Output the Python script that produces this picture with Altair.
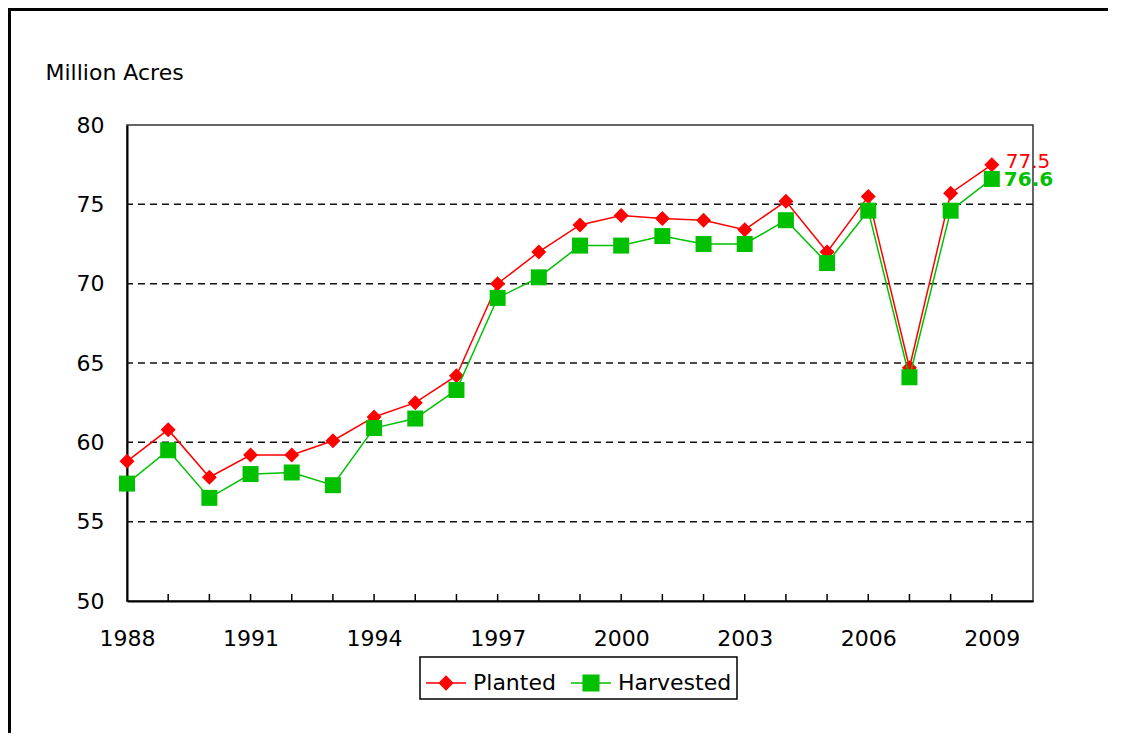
import altair as alt
import pandas as pd

years = list(range(1988, 2010))
planted = [58.8, 60.8, 57.8, 59.2, 59.2, 60.1, 61.6, 62.5, 64.2, 70.0, 72.0, 73.7,
           74.3, 74.1, 74.0, 73.4, 75.2, 72.0, 75.5, 64.7, 75.7, 77.5]
harvested = [57.4, 59.5, 56.5, 58.0, 58.1, 57.3, 60.9, 61.5, 63.3, 69.1, 70.4, 72.4,
             72.4, 73.0, 72.5, 72.5, 74.0, 71.3, 74.6, 64.1, 74.6, 76.6]
series = ["Planted", "Harvested"]
colors = ["#FF0000", "#00C000"]
x_label_years = [1988, 1991, 1994, 1997, 2000, 2003, 2006, 2009]
y_ticks = [50, 55, 60, 65, 70, 75, 80]
grid_values = [55, 60, 65, 70, 75]

W, H = 906, 476
FONT = "DejaVu Sans"

rows = []
for s, vals in zip(series, [planted, harvested]):
    for yr, v in zip(years, vals):
        rows.append({"year": yr, "value": v, "series": s})
df = pd.DataFrame(rows)

xscale = alt.Scale(domain=[1988, 2010], nice=False, zero=False)
yscale = alt.Scale(domain=[50, 80], nice=False, zero=False)

x_enc = alt.X("year:Q", scale=xscale, axis=alt.Axis(
    values=x_label_years, format="d", title=None, grid=False, ticks=False, tickSize=0,
    labelFontSize=22, labelFont=FONT, labelColor="#000", labelPadding=27,
    labelFlush=False, labelOverlap=False, labelBound=False,
    domainColor="#000", domainWidth=2))
y_enc = alt.Y("value:Q", scale=yscale, axis=alt.Axis(
    values=y_ticks, title="Million Acres", grid=False, ticks=False, tickSize=0,
    labelFontSize=22, labelFont=FONT, labelColor="#000", labelPadding=23,
    domainColor="#000", domainWidth=2,
    titleAngle=0, titleX=-82, titleY=-53, titleAlign="left", titleBaseline="middle",
    titleFontSize=22, titleFont=FONT, titleFontWeight="normal", titleColor="#000"))

grid_df = pd.DataFrame({"g": grid_values})
grid = alt.Chart(grid_df).mark_rule(color="#111", strokeWidth=1.5, strokeDash=[7, 5]).encode(
    y=alt.Y("g:Q", scale=yscale))

tick_df = pd.DataFrame({"t": years[1:]})
ticks = alt.Chart(tick_df).mark_rule(color="#000", strokeWidth=1.5).encode(
    x=alt.X("t:Q", scale=xscale), y=alt.value(H - 7), y2=alt.value(H))

line_p = alt.Chart(df).transform_filter("datum.series == 'Planted'").mark_line(
    strokeWidth=1.5, color=colors[0]).encode(x=x_enc, y=y_enc)
pts_p = alt.Chart(df).transform_filter("datum.series == 'Planted'").mark_point(
    filled=True, opacity=1, shape="diamond", size=225, color=colors[0]).encode(
    x="year:Q", y="value:Q")
line_h = alt.Chart(df).transform_filter("datum.series == 'Harvested'").mark_line(
    strokeWidth=1.5, color=colors[1]).encode(x="year:Q", y="value:Q")
pts_h = alt.Chart(df).transform_filter("datum.series == 'Harvested'").mark_point(
    filled=True, opacity=1, shape="square", size=256, color=colors[1]).encode(
    x="year:Q", y="value:Q")

legend_paths = [
    "M-1,0H1M0,-0.33L0.33,0L0,0.33L-0.33,0Z",
    "M-1,0H1M-0.39,-0.39H0.39V0.39H-0.39Z",
]
leg = alt.Legend(title=None, orient="none", legendX=293, legendY=532, direction="horizontal")
legend_layer = alt.Chart(df).transform_filter("false").mark_point(filled=True, opacity=1).encode(
    x="year:Q", y="value:Q",
    fill=alt.Fill("series:N", scale=alt.Scale(domain=series, range=colors), legend=leg),
    stroke=alt.Stroke("series:N", scale=alt.Scale(domain=series, range=colors), legend=leg),
    shape=alt.Shape("series:N", scale=alt.Scale(domain=series, range=legend_paths), legend=leg))

last_p = alt.Chart(df).transform_filter("datum.year == 2009 && datum.series == 'Planted'").mark_text(
    align="left", baseline="middle", dx=14, dy=-3, fontSize=20, font=FONT, color="#FF0000").encode(
    x="year:Q", y="value:Q", text=alt.Text("value:Q", format=".1f"))
last_h = alt.Chart(df).transform_filter("datum.year == 2009 && datum.series == 'Harvested'").mark_text(
    align="left", baseline="middle", dx=12, dy=1, fontSize=20, font=FONT, fontWeight="bold",
    color="#00C000").encode(
    x="year:Q", y="value:Q", text=alt.Text("value:Q", format=".1f"))

frame_df = alt.Data(values=[{"a": 1}])
frame_left = alt.Chart(frame_df).mark_rule(color="#000", strokeWidth=3).encode(
    x=alt.value(-117.5), y=alt.value(-117), y2=alt.value(H + 132))
frame_top = alt.Chart(frame_df).mark_rule(color="#000", strokeWidth=3).encode(
    y=alt.value(-115.5), x=alt.value(-119), x2=alt.value(W + 75))

chart = alt.layer(
    grid, ticks, line_p, pts_p, line_h, pts_h, legend_layer, last_p, last_h, frame_left, frame_top
).properties(
    width=W, height=H,
    autosize=alt.AutoSizeParams(type="none"),
    padding={"left": 119, "top": 117, "right": 75, "bottom": 132},
    background="white",
).configure_view(
    stroke="#333", strokeWidth=1.5
).configure_legend(
    labelFontSize=22, labelFont=FONT, labelColor="#000",
    symbolSize=1600, symbolStrokeWidth=1.5, symbolOpacity=1, labelOffset=6, columnPadding=12,
    padding=5, strokeColor="#000", strokeWidth=1.5, fillColor="white", labelLimit=300
)

chart.save("out.html", embed_options={"renderer": "svg", "actions": False})
